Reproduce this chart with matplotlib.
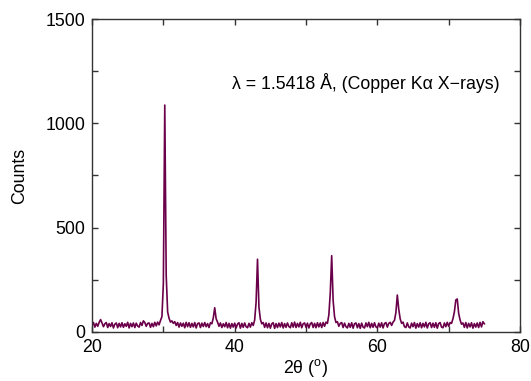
import numpy as np
import matplotlib.pyplot as plt

plt.rcParams['font.family'] = ['Liberation Sans', 'DejaVu Sans']
plt.rcParams['mathtext.fontset'] = 'custom'
plt.rcParams['mathtext.rm'] = 'Liberation Sans'

# 2theta grid (degrees), 0.2 deg step from 20 to 75
dois_theta = np.round(np.arange(20.0, 75.01, 0.2), 1)

contagens = [
    28, 44, 22, 40, 26, 45, 58, 42, 24, 38,      # 20
    44, 20, 39, 25, 43, 18, 36, 42, 19, 40,      # 22
    23, 43, 21, 38, 26, 45, 18, 40, 24, 42,      # 24
    20, 41, 27, 22, 44, 30, 52, 44, 26, 40,      # 26
    42, 21, 40, 24, 45, 28, 46, 33, 54, 72,      # 28
    230, 1088, 270, 95, 64, 46, 52, 40, 48, 30,  # 30
    44, 22, 42, 26, 41, 19, 45, 24, 43, 21,      # 32
    40, 23, 44, 18, 39, 42, 20, 41, 25, 44,      # 34
    24, 39, 20, 43, 38, 66, 115, 62, 46, 26,     # 36
    42, 20, 38, 24, 44, 19, 40, 17, 39, 22,      # 38
    41, 18, 37, 43, 17, 40, 21, 42, 24, 19,      # 40
    40, 22, 43, 30, 56, 140, 348, 118, 60, 38,   # 42
    44, 21, 42, 19, 40, 17, 38, 43, 16, 39,      # 44
    20, 41, 23, 44, 18, 39, 21, 42, 25, 19,      # 46
    43, 22, 46, 20, 40, 23, 45, 19, 38, 42,      # 48
    21, 41, 18, 38, 44, 20, 40, 19, 43, 23,      # 50
    42, 20, 44, 26, 46, 40, 80, 185, 365, 150,   # 52
    72, 44, 48, 26, 40, 44, 20, 41, 24, 18,      # 54
    40, 21, 43, 17, 38, 42, 19, 39, 16, 41,      # 56
    22, 18, 42, 24, 45, 19, 40, 21, 43, 23,      # 58
    19, 41, 22, 43, 18, 39, 44, 22, 40, 45,      # 60
    30, 46, 54, 92, 176, 108, 62, 40, 46, 24,    # 62
    20, 42, 23, 18, 41, 24, 44, 17, 39, 22,      # 64
    43, 19, 40, 23, 45, 18, 38, 43, 20, 41,      # 66
    21, 43, 17, 39, 44, 22, 19, 42, 24, 45,      # 68
    26, 44, 40, 62, 95, 152, 157, 88, 56, 36,    # 70
    42, 21, 44, 18, 40, 23, 43, 17, 39, 22,      # 72
    42, 20, 45, 23, 48, 38,                      # 74
]

fig = plt.figure(figsize=(5.31, 3.81), dpi=100)
ax = fig.add_axes([0.1733, 0.1294, 0.806, 0.82])

ax.plot(dois_theta, contagens, color='#6b004a', linewidth=1.2)

ax.set_xlim(20, 80)
ax.set_ylim(0, 1500)
ax.set_xticks([20, 40, 60, 80])
ax.set_xticks([30, 50, 70], minor=True)
ax.set_yticks([0, 500, 1000, 1500])
ax.set_yticks([250, 750, 1250], minor=True)
ax.tick_params(which='both', direction='in', top=True, right=True,
               length=4.5, width=1, color='#333333', labelsize=12.8, pad=5)
for s in ax.spines.values():
    s.set_color('#333333')
    s.set_linewidth(1)

ax.set_xlabel(r'2θ ($^\mathrm{o}$)', fontsize=12.8, labelpad=1)
ax.set_ylabel('Counts', fontsize=12.8, labelpad=12)
ax.text(0.952, 0.795, 'λ = 1.5418 Å, (Copper Kα X−rays)', transform=ax.transAxes,
        ha='right', va='center', fontsize=12.8)

fig.savefig('out.png', dpi=100)
